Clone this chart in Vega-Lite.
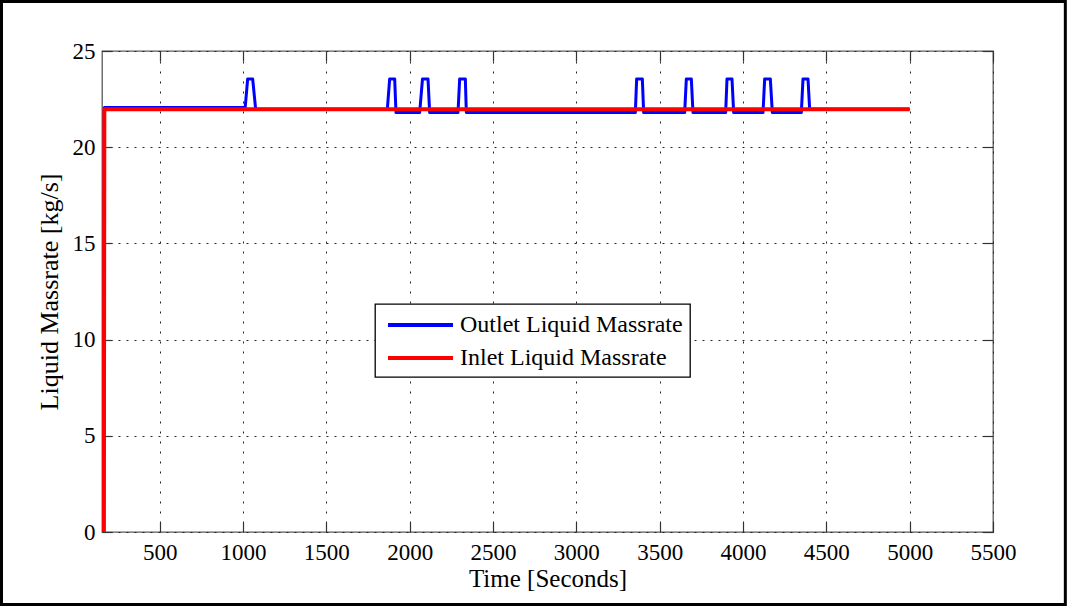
{
  "$schema": "https://vega.github.io/schema/vega-lite/v6.json",
  "width": 891,
  "height": 481,
  "autosize": {"type": "none"},
  "padding": {"left": 102, "top": 51, "right": 75, "bottom": 77},
  "background": "white",
  "config": {
    "view": {"stroke": "#5a5a5a", "strokeWidth": 1.3},
    "axis": {
      "labelFont": "Liberation Serif",
      "titleFont": "Liberation Serif",
      "labelColor": "black",
      "titleColor": "black",
      "titleFontWeight": "normal",
      "domain": false,
      "tickColor": "#333",
      "tickSize": -10,
      "tickWidth": 1.2,
      "gridColor": "#222",
      "gridWidth": 1,
      "gridOpacity": 1
    },
    "legend": {
      "labelFont": "Liberation Serif",
      "labelFontSize": 24,
      "labelColor": "black",
      "labelLimit": 500,
      "symbolType": "M-2.71,0H2.71",
      "symbolSize": 576,
      "symbolStrokeWidth": 4,
      "symbolOffset": 24.5,
      "labelOffset": 25.5,
      "rowPadding": 7,
      "padding": 7,
      "strokeColor": "black",
      "strokeWidth": 1.3,
      "fillColor": "white"
    }
  },
  "datasets": {
    "outlet": [
      {"t": 165, "v": 0},
      {"t": 168, "v": 22.06},
      {"t": 1013, "v": 22.06},
      {"t": 1028, "v": 23.55},
      {"t": 1058, "v": 23.55},
      {"t": 1076, "v": 21.97},
      {"t": 1866, "v": 21.97},
      {"t": 1880, "v": 23.55},
      {"t": 1910, "v": 23.55},
      {"t": 1918, "v": 21.8},
      {"t": 2060, "v": 21.8},
      {"t": 2077, "v": 23.55},
      {"t": 2110, "v": 23.55},
      {"t": 2120, "v": 21.8},
      {"t": 2290, "v": 21.8},
      {"t": 2300, "v": 23.55},
      {"t": 2334, "v": 23.55},
      {"t": 2340, "v": 21.8},
      {"t": 3354, "v": 21.8},
      {"t": 3362, "v": 23.55},
      {"t": 3396, "v": 23.55},
      {"t": 3404, "v": 21.8},
      {"t": 3650, "v": 21.8},
      {"t": 3660, "v": 23.55},
      {"t": 3690, "v": 23.55},
      {"t": 3700, "v": 21.8},
      {"t": 3896, "v": 21.8},
      {"t": 3904, "v": 23.55},
      {"t": 3934, "v": 23.55},
      {"t": 3944, "v": 21.8},
      {"t": 4120, "v": 21.8},
      {"t": 4130, "v": 23.55},
      {"t": 4164, "v": 23.55},
      {"t": 4176, "v": 21.8},
      {"t": 4350, "v": 21.8},
      {"t": 4360, "v": 23.55},
      {"t": 4390, "v": 23.55},
      {"t": 4400, "v": 21.97},
      {"t": 5000, "v": 21.97}
    ],
    "inlet": [
      {"t": 165, "v": 0},
      {"t": 168, "v": 21.97},
      {"t": 5000, "v": 21.97}
    ]
  },
  "layer": [
    {
      "layer": [
        {
          "mark": {"type": "rect", "fill": null, "stroke": "black", "strokeWidth": 3, "clip": false},
          "data": {"values": [{}]},
          "encoding": {
            "x": {"datum": -449, "type": "quantitative", "title": "Time [Seconds]"},
            "x2": {"datum": 5934},
            "y": {"datum": 27.57, "type": "quantitative", "title": "Liquid Massrate [kg/s]"},
            "y2": {"datum": -3.77}
          }
        },
        {
          "data": {"name": "outlet"},
          "transform": [{"calculate": "'Outlet Liquid Massrate'", "as": "series"}],
          "mark": {"type": "line", "strokeWidth": 3, "clip": true, "strokeJoin": "round"},
          "encoding": {
            "x": {
              "field": "t", "type": "quantitative", "title": "Time [Seconds]",
              "scale": {"domain": [154, 5500], "nice": false, "zero": false},
              "axis": {
                "values": [500, 1000, 1500, 2000, 2500, 3000, 3500, 4000, 4500, 5000, 5500],
                "format": "d", "grid": true,
                "labelFontSize": 23, "titleFontSize": 25, "labelPadding": 19, "titlePadding": 2,
                "gridDash": [2, 8], "labelFlush": false
              }
            },
            "y": {
              "field": "v", "type": "quantitative", "title": "Liquid Massrate [kg/s]",
              "scale": {"domain": [0, 25], "nice": false},
              "axis": {
                "values": [0, 5, 10, 15, 20, 25], "grid": true,
                "labelFontSize": 23, "titleFontSize": 26, "labelPadding": 17, "titlePadding": 10,
                "gridDash": [2, 6]
              }
            },
            "color": {
              "field": "series", "type": "nominal",
              "scale": {"domain": ["Outlet Liquid Massrate", "Inlet Liquid Massrate"], "range": ["#0000ff", "#ff0000"]},
              "legend": {"title": null, "orient": "none", "legendX": 273, "legendY": 253}
            }
          }
        },
        {
          "data": {"name": "inlet"},
          "transform": [{"calculate": "'Inlet Liquid Massrate'", "as": "series"}],
          "mark": {"type": "line", "strokeWidth": 4, "clip": true, "strokeJoin": "round"},
          "encoding": {
            "x": {"field": "t", "type": "quantitative", "title": "Time [Seconds]"},
            "y": {"field": "v", "type": "quantitative", "title": "Liquid Massrate [kg/s]"},
            "color": {"field": "series", "type": "nominal"}
          }
        }
      ]
    },
    {
      "data": {"name": "inlet"},
      "mark": {"type": "line", "opacity": 0},
      "encoding": {
        "x": {
          "field": "t", "type": "quantitative",
          "axis": {"orient": "top", "labels": false, "title": null, "grid": false,
                   "values": [500, 1000, 1500, 2000, 2500, 3000, 3500, 4000, 4500, 5000, 5500]}
        },
        "y": {
          "field": "v", "type": "quantitative",
          "axis": {"orient": "right", "labels": false, "title": null, "grid": false,
                   "values": [0, 5, 10, 15, 20, 25]}
        }
      }
    }
  ],
  "resolve": {"axis": {"x": "independent", "y": "independent"}}
}
